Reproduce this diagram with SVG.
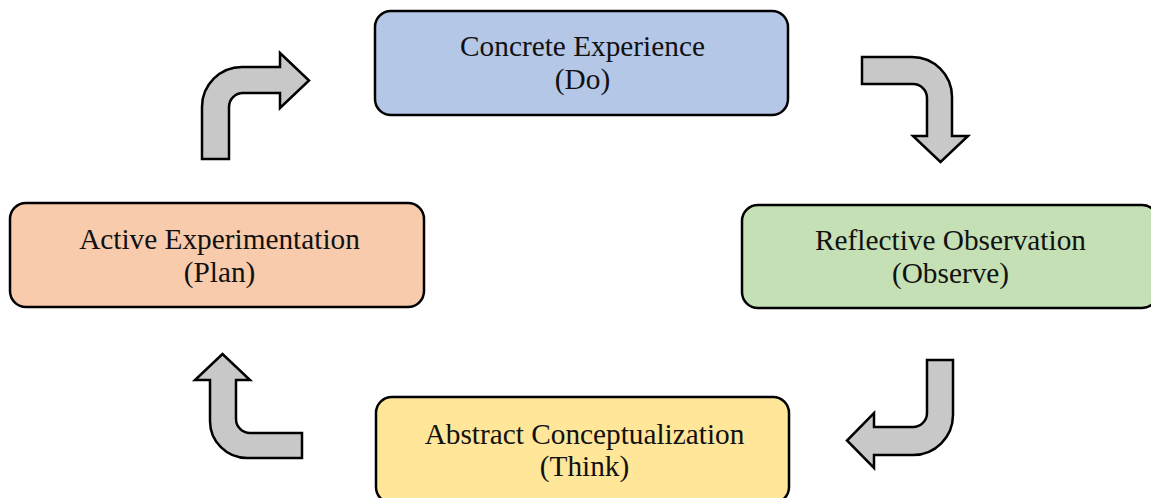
<svg xmlns="http://www.w3.org/2000/svg" width="1151" height="498" viewBox="0 0 1151 498">
  <style>
    .box { stroke: #000; stroke-width: 2.5; }
    .lbl { font-family: "Liberation Serif", "Times New Roman", serif; font-size: 29.3px; fill: #111; text-anchor: middle; }
    .bend { fill: #c8c8c8; stroke: #000; stroke-width: 2.5; stroke-linejoin: miter; }
  </style>
  <rect width="1151" height="498" fill="#fff"/>

  <g id="concrete-experience">
    <rect class="box" x="375" y="11" width="413" height="104" rx="16" fill="#b4c7e7"/>
    <text class="lbl" x="582.5" y="56">Concrete Experience</text>
    <text class="lbl" x="582.5" y="89">(Do)</text>
  </g>

  <g id="reflective-observation">
    <rect class="box" x="742" y="205" width="416" height="103" rx="16" fill="#c5e0b4"/>
    <text class="lbl" x="950.5" y="250">Reflective Observation</text>
    <text class="lbl" x="950.5" y="283">(Observe)</text>
  </g>

  <g id="abstract-conceptualization">
    <rect class="box" x="376" y="397" width="413" height="106" rx="16" fill="#ffe699"/>
    <text class="lbl" x="584.5" y="444">Abstract Conceptualization</text>
    <text class="lbl" x="584.5" y="476">(Think)</text>
  </g>

  <g id="active-experimentation">
    <rect class="box" x="10" y="203" width="414" height="104" rx="16" fill="#f8cbad"/>
    <text class="lbl" x="219.5" y="249">Active Experimentation</text>
    <text class="lbl" x="219.5" y="282">(Plan)</text>
  </g>

  <g id="connectors">
    <!-- plan -> do -->
    <path class="bend" d="M202,159 L202,107 A40,40 0 0 1 242,67 L280,67 L280,53 L309,80.5 L280,108 L280,93 L243,93 A14,14 0 0 0 229,107 L229,159 Z"/>
    <!-- do -> observe -->
    <path class="bend" d="M862,57 L912,57 A40,40 0 0 1 952,97 L952,136 L968,136 L940.5,162 L913,136 L927,136 L927,98 A14,14 0 0 0 913,84 L862,84 Z"/>
    <!-- observe -> think -->
    <path class="bend" d="M927,360 L953,360 L953,415 A40,40 0 0 1 913,455 L874,455 L874,468 L847,440.5 L874,413 L874,427 L913,427 A14,14 0 0 0 927,413 Z"/>
    <!-- think -> plan -->
    <path class="bend" d="M302,433 L250,433 A14,14 0 0 1 236,419 L236,380 L250,380 L222.5,354 L195,380 L210,380 L210,421 A37,37 0 0 0 247,458 L302,458 Z"/>
  </g>
</svg>
